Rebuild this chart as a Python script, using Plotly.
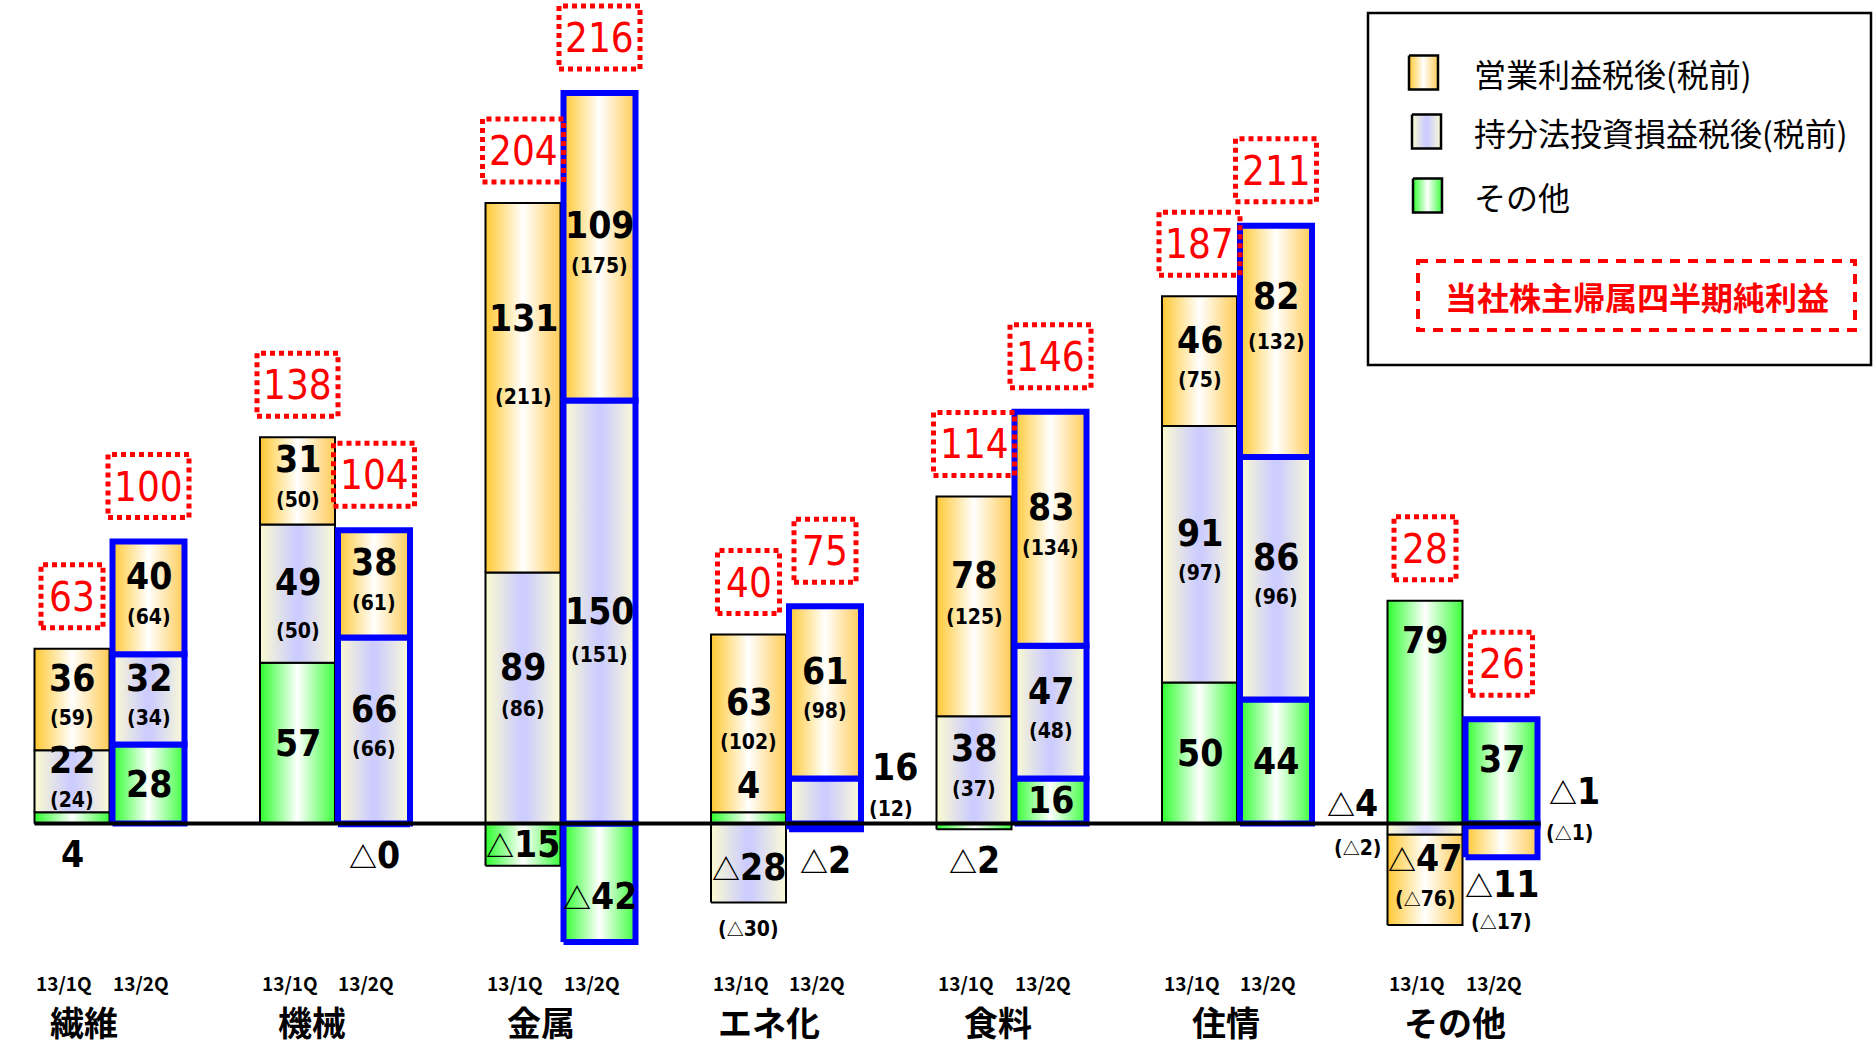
import glob
import subprocess
import plotly.graph_objects as go

# ------------------------------------------------------------------ data
categories = ['繊維', '機械', '金属', 'エネ化', '食料', '住情', 'その他']
periods = ['13/1Q', '13/2Q']

# 営業利益 税後 / (税前)
op_after_1q = [36, 31, 131, 63, 78, 46, -47]
op_after_2q = [40, 38, 109, 61, 83, 82, -11]
op_before_1q = [59, 50, 211, 102, 125, 75, -76]
op_before_2q = [64, 61, 175, 98, 134, 132, -17]

# 持分法投資損益 税後 / (税前)
eq_after_1q = [22, 49, 89, -28, 38, 91, -4]
eq_after_2q = [32, 66, 150, 16, 47, 86, -1]
eq_before_1q = [24, 50, 86, -30, 37, 97, -2]
eq_before_2q = [34, 66, 151, 12, 48, 96, -1]

# その他 (機械 13/2Q is shown as △0: a tiny negative)
other_1q = [4, 57, -15, 4, -2, 50, 79]
other_2q = [28, -0.3, -42, -2, 16, 44, 37]

# 当社株主帰属四半期純利益
net_1q = [63, 138, 204, 40, 114, 187, 28]
net_2q = [100, 104, 216, 75, 146, 211, 26]

# the source slide draws the その他 13/1Q 営業 block shorter than its label
drawn_len = {(6, 0, 'op'): -32}

legend_labels = ['営業利益税後(税前)', '持分法投資損益税後(税前)', 'その他']
net_legend_label = '当社株主帰属四半期純利益'

# ------------------------------------------------------------------ fonts
def has_font(pattern):
    try:
        out = subprocess.run(['fc-list'], capture_output=True, text=True, timeout=10).stdout
        if pattern.replace(' ', '').lower() in out.replace(' ', '').lower():
            return True
    except Exception:
        pass
    for base in ['/usr/share/fonts', '/usr/local/share/fonts', '/root/.fonts',
                 '/root/.local/share/fonts']:
        if glob.glob(base + '/**/' + pattern.replace(' ', '') + '*', recursive=True):
            return True
    return False


CJK = 'Noto Sans CJK JP, Noto Sans, sans-serif'
if has_font('Liberation Sans Narrow') or has_font('LiberationSansNarrow'):
    NUM = 'Liberation Sans Narrow, ' + CJK
    BIG, SMALL, RED = 42, 24, 43
elif has_font('DejaVu Sans Condensed') or has_font('DejaVuSansCondensed'):
    NUM = 'DejaVu Sans Condensed, ' + CJK
    BIG, SMALL, RED = 37, 21, 40
else:
    NUM = CJK
    BIG, SMALL, RED = 36, 21, 39

# ------------------------------------------------------------------ layout constants
W, H = 1873, 1045
GROUP_PX = 225.5      # pixels between group centres
X0_PX = 109.5         # pixel x of first group centre
Y0_PX = 823.5         # pixel y of zero line
UNIT_PX = 2.82        # pixels per unit


def px(p):
    return p / GROUP_PX


FILL = {
    'op': [[0, '#FFC832'], [0.5, '#FFFFFF'], [1, '#FFCB55']],
    'eq': [[0, '#FBFBD0'], [0.47, '#CCCCFF'], [0.53, '#CCCCFF'], [1, '#FBFBD6']],
    'other': [[0, '#2EFF2E'], [0.5, '#FFFFFF'], [1, '#3CFF3C']],
}

LABEL_MODE = {
    (0, 0, 'other'): 'below',
    (1, 1, 'other'): 'below',
    (3, 0, 'other'): 'above',
    (3, 0, 'eq'): 'in_small_below',
    (3, 1, 'other'): 'below',
    (3, 1, 'eq'): 'right',
    (4, 0, 'other'): 'below',
    (6, 0, 'other'): 'upper',
    (6, 1, 'other'): 'upper',
    (6, 0, 'eq'): 'left',
    (6, 1, 'eq'): 'right',
    (6, 1, 'op'): 'below',
}
# extra pixel nudges (big, small) for labels placed off-centre in the source
LABEL_NUDGE = {
    (2, 0, 'op'): (48, 10),
    (5, 1, 'op'): (24, 18),
    (2, 1, 'eq'): (-20, -24),
    (1, 0, 'eq'): (-10, -18),
    (2, 0, 'eq'): (10, 8),
    (4, 0, 'op'): (10, 8),
    (2, 1, 'other'): (-14, 0),
}

after = {
    ('op', 0): op_after_1q, ('op', 1): op_after_2q,
    ('eq', 0): eq_after_1q, ('eq', 1): eq_after_2q,
    ('other', 0): other_1q, ('other', 1): other_2q,
}
before = {
    ('op', 0): op_before_1q, ('op', 1): op_before_2q,
    ('eq', 0): eq_before_1q, ('eq', 1): eq_before_2q,
}
nets = [net_1q, net_2q]


def txt(v, tri):
    s = str(int(round(abs(v))))
    if v < 0:
        return ('<span style="font-family:Noto Sans CJK JP;font-size:%dpx">△</span>' % tri) + s
    return s


fig = go.Figure()
annotations = []
shapes = []


def big_ann(x, y, v, yshift=0, xshift=0, xanchor='center'):
    annotations.append(dict(x=x, y=y, xref='x', yref='y',
                            text='<b>' + txt(v, int(BIG * 0.78)) + '</b>',
                            showarrow=False, xanchor=xanchor, yanchor='middle',
                            xshift=xshift, yshift=yshift,
                            font=dict(family=NUM, size=BIG, color='black')))


def small_ann(x, y, v, yshift=0, xshift=0, xanchor='center'):
    t = '(' + txt(v, int(SMALL * 0.85)) + ')'
    annotations.append(dict(x=x, y=y, xref='x', yref='y', text='<b>' + t + '</b>',
                            showarrow=False, xanchor=xanchor, yanchor='middle',
                            xshift=xshift, yshift=yshift,
                            font=dict(family=NUM, size=SMALL, color='black')))


for i, cat in enumerate(categories):
    for p in range(2):
        segs = []
        pos = neg = 0.0
        for k in ['other', 'eq', 'op']:
            v = after[(k, p)][i]
            d = drawn_len.get((i, p, k), v)
            if d >= 0:
                lo, hi = pos, pos + d
                pos += d
            else:
                lo, hi = neg + d, neg
                neg += d
            segs.append((k, v, lo, hi))
        if p == 0:
            xa, xb = i - px(75), i
            lcol, lw = 'black', 2
        else:
            xa, xb = i + px(3), i + px(75)
            lcol, lw = '#0000FF', 6
        cx = (xa + xb) / 2
        for k, v, lo, hi in segs:
            if hi - lo <= 0:
                continue
            fig.add_trace(go.Scatter(
                x=[xa, xb, xb, xa, xa], y=[lo, lo, hi, hi, lo],
                mode='lines', fill='toself',
                fillgradient=dict(type='horizontal', colorscale=FILL[k]),
                line=dict(color=lcol, width=lw), hoverinfo='skip', showlegend=False))
        # labels
        for k, v, lo, hi in segs:
            has_small = k in ('op', 'eq')
            sv = before[(k, p)][i] if has_small else None
            mid = (lo + hi) / 2
            mode = LABEL_MODE.get((i, p, k), 'in')
            nb, ns = LABEL_NUDGE.get((i, p, k), (0, 0))
            if mode == 'in':
                if has_small:
                    big_ann(cx, mid, v, yshift=21 + nb)
                    small_ann(cx, mid, sv, yshift=-19 + ns)
                else:
                    big_ann(cx, mid, v, yshift=nb)
            elif mode == 'upper':
                big_ann(cx, hi, v, yshift=-40)
            elif mode == 'above':
                big_ann(cx, hi, v, yshift=27)
            elif mode == 'below':
                if has_small:
                    big_ann(cx, neg, v, yshift=-27)
                    small_ann(cx, neg, sv, yshift=-64)
                else:
                    big_ann(cx, neg, v, yshift=-31)
            elif mode == 'in_small_below':
                big_ann(cx, mid, v, yshift=-5)
                small_ann(cx, neg, sv, yshift=-26)
            elif mode == 'right':
                big_ann(xb, mid, v, yshift=33, xshift=9, xanchor='left')
                small_ann(xb, mid, sv, yshift=-8, xshift=6, xanchor='left')
            elif mode == 'left':
                big_ann(xa, mid, v, yshift=26, xshift=-8, xanchor='right')
                small_ann(xa, mid, sv, yshift=-18, xshift=-5, xanchor='right')
        # net income box
        net = nets[p][i]
        bw = 81 if len(str(net)) >= 3 else 62
        gap = 21 + (3 if p == 1 else 0)
        shapes.append(dict(type='rect', xref='x', yref='y', xsizemode='pixel', ysizemode='pixel',
                           xanchor=cx, yanchor=pos, x0=-bw / 2, x1=bw / 2, y0=gap, y1=gap + 63,
                           line=dict(color='#FF0000', width=5, dash='5px,4px'),
                           fillcolor='rgba(0,0,0,0)', layer='above'))
        annotations.append(dict(x=cx, y=pos, xref='x', yref='y', text=str(net), showarrow=False,
                                xanchor='center', yanchor='middle', yshift=gap + 31,
                                font=dict(family=NUM, size=RED, color='#FF0000')))
        # period label
        annotations.append(dict(x=cx, y=982, xref='x', yref='y2', text='<b>' + periods[p] + '</b>',
                                showarrow=False, xanchor='center', yanchor='middle', xshift=-8,
                                font=dict(family=CJK, size=19, color='black')))
    annotations.append(dict(x=i, y=1021, xref='x', yref='y2', text='<b>' + cat + '</b>',
                            showarrow=False, xanchor='center', yanchor='middle',
                            xshift=-26 + 3 * i,
                            font=dict(family=CJK, size=34, color='black')))

# zero line
shapes.append(dict(type='line', xref='x', yref='y', x0=-px(75), x1=len(categories) - 1 + px(78),
                   y0=0, y1=0, line=dict(color='black', width=4), layer='above'))

# ------------------------------------------------------------------ legend (pixel overlay axes)
shapes.append(dict(type='rect', xref='x2', yref='y2', x0=1368, x1=1871, y0=13, y1=365,
                   line=dict(color='black', width=2.5), fillcolor='rgba(0,0,0,0)'))
leg_rows = [('op', 72.5, 1409), ('eq', 131.5, 1412), ('other', 195.5, 1413)]
for (k, yc, xl), lab in zip(leg_rows, legend_labels):
    fig.add_trace(go.Scatter(
        x=[xl, xl + 29, xl + 29, xl, xl], y=[yc - 17, yc - 17, yc + 17, yc + 17, yc - 17],
        xaxis='x2', yaxis='y2', mode='lines', fill='toself',
        fillgradient=dict(type='horizontal', colorscale=FILL[k]),
        line=dict(color='black', width=2.5), hoverinfo='skip', showlegend=False))
    annotations.append(dict(x=1472, y=yc, xref='x2', yref='y2', text=lab, showarrow=False,
                            xanchor='left', yanchor='middle',
                            font=dict(family=CJK, size=32, color='black')))
shapes.append(dict(type='rect', xref='x2', yref='y2', x0=1418, x1=1855, y0=261, y1=330,
                   line=dict(color='#FF0000', width=4, dash='10px,8px'),
                   fillcolor='rgba(0,0,0,0)'))
annotations.append(dict(x=1636.5, y=296, xref='x2', yref='y2', text='<b>' + net_legend_label + '</b>',
                        showarrow=False, xanchor='center', yanchor='middle',
                        font=dict(family=CJK, size=32, color='#FF0000')))

fig.update_layout(
    width=W, height=H, margin=dict(l=0, r=0, t=0, b=0),
    paper_bgcolor='white', plot_bgcolor='white', showlegend=False,
    xaxis=dict(range=[-X0_PX / GROUP_PX, (W - X0_PX) / GROUP_PX], visible=False, fixedrange=True),
    yaxis=dict(range=[-(H - Y0_PX) / UNIT_PX, Y0_PX / UNIT_PX], visible=False, fixedrange=True),
    xaxis2=dict(range=[0, W], visible=False, overlaying='x', anchor='y2', fixedrange=True),
    yaxis2=dict(range=[H, 0], visible=False, overlaying='y', anchor='x2', fixedrange=True),
    shapes=shapes, annotations=annotations,
)

fig.write_html("out.html", config={'displayModeBar': False},
               post_script="document.body.style.margin='0';document.body.style.overflow='hidden';")
